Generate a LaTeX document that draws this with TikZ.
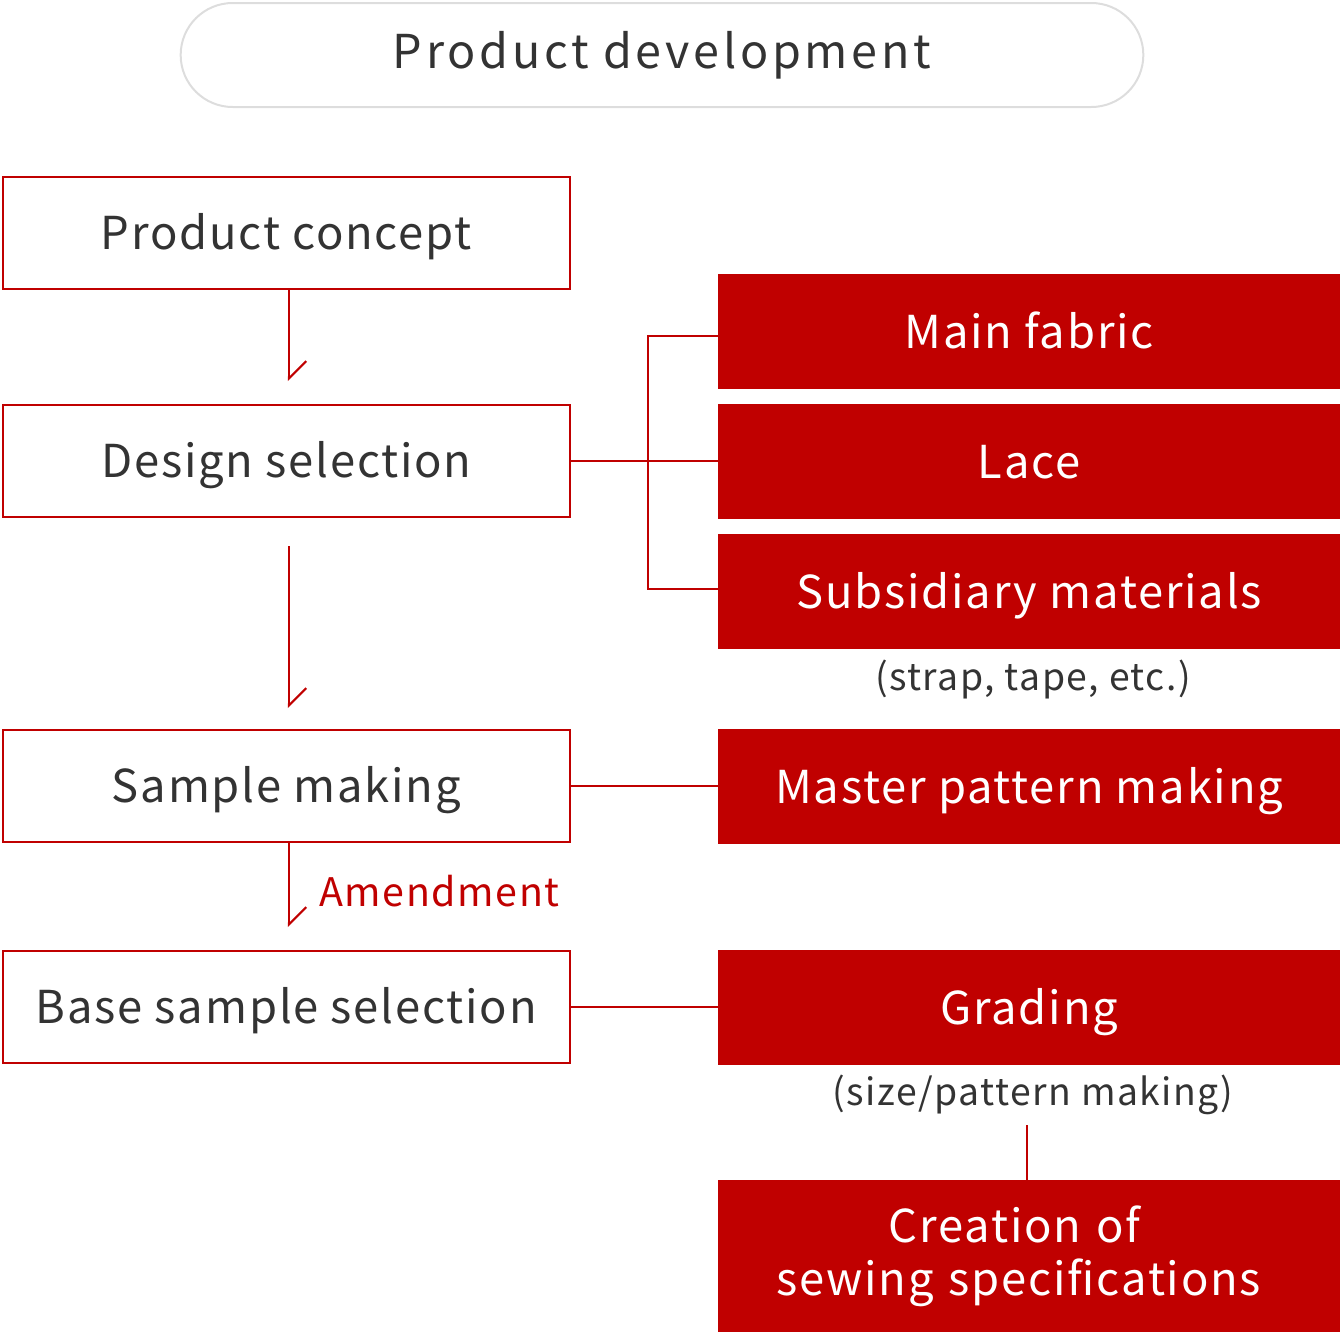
\documentclass[tikz,border=0pt]{standalone}
\usepackage{fontspec}
\setmainfont[LetterSpace=4]{Noto Sans CJK JP}
\newfontfamily\titlefont[LetterSpace=8]{Noto Sans CJK JP}
\usetikzlibrary{arrows.meta}
\definecolor{darkred}{HTML}{C00000}
\definecolor{textgray}{HTML}{333333}
\definecolor{pillgray}{HTML}{DDDDDD}
\tikzset{
  link/.style={draw=darkred,line width=1.6pt},
  stepbox/.style={draw=darkred,line width=1.6pt,fill=white,text=textgray,anchor=north west,
    minimum width=425pt,minimum height=84pt,inner sep=0pt,text height=30pt,text depth=6pt,
    font=\fontsize{34}{40}\selectfont},
  matbox/.style={fill=darkred,text=white,anchor=north west,
    minimum width=466.5pt,minimum height=86pt,inner sep=0pt,text height=31pt,text depth=6pt,
    font=\fontsize{34}{40}\selectfont},
  note/.style={text=textgray,inner sep=0pt,font=\fontsize{28}{34}\selectfont},
}
\begin{document}
\begin{tikzpicture}[x=0.75pt,y=-0.75pt,>={Straight Barb[harpoon,length=13pt,width=26pt]}]
  \useasboundingbox (0,0) rectangle (1340,1332);

  % Title
  \node[draw=pillgray,line width=1.5pt,rounded corners=39pt,minimum width=722pt,minimum height=78pt,
    text=textgray,font=\titlefont\fontsize{35}{40}\selectfont] (title) at (662,55) {Product development};

  % Steps (left)
  \node[stepbox] (concept) at (2,176) {Product concept};
  \node[stepbox] (design) at (2,404) {Design selection};
  \node[stepbox] (sample) at (2,729) {Sample making};
  \node[stepbox] (base) at (2,950) {Base sample selection};

  % Materials (right)
  \node[matbox] (fabric) at (718,274) {Main fabric};
  \node[matbox] (lace) at (718,404) {Lace};
  \node[matbox] (subsid) at (718,534) {Subsidiary materials};
  \node[note] (subnote) at (1033,679) {(strap, tape, etc.)};
  \node[matbox] (master) at (718,729) {Master pattern making};
  \node[matbox] (grading) at (718,950) {Grading};
  \node[note] (gradnote) at (1033,1095) {(size/pattern making)};
  \node[matbox,minimum height=114pt,align=center,text width=466.5pt,text height=,text depth=] (sewing) at (718,1180)
    {\hspace*{-22pt}Creation of\\\hspace*{-16pt}sewing specifications};

  % Flow arrows
  \coordinate (a1) at (289,381);
  \coordinate (a2s) at (289,546);
  \coordinate (a2) at (289,708);
  \coordinate (a3) at (289,927);
  \draw[link,->] (concept.south -| a1) -- (a1);
  \draw[link,->] (a2s) -- (a2);
  \draw[link,->] (sample.south -| a3) -- (a3);
  \node[anchor=west,text=darkred,inner sep=0pt,font=\fontsize{29.5}{34}\selectfont] (amend) at (319,891) {Amendment};

  % Links to materials
  \coordinate (jt) at (648,336);
  \coordinate (jb) at (648,589);
  \coordinate (g) at (1027,1125);
  \draw[link] (design.east) -- (design.east -| lace.west);
  \draw[link] (jt -| fabric.west) -- (jt) -- (jb) -- (jb -| subsid.west);
  \draw[link] (sample.east) -- (sample.east -| master.west);
  \draw[link] (base.east) -- (base.east -| grading.west);
  \draw[link] (g) -- (g |- sewing.north);
\end{tikzpicture}
\end{document}
